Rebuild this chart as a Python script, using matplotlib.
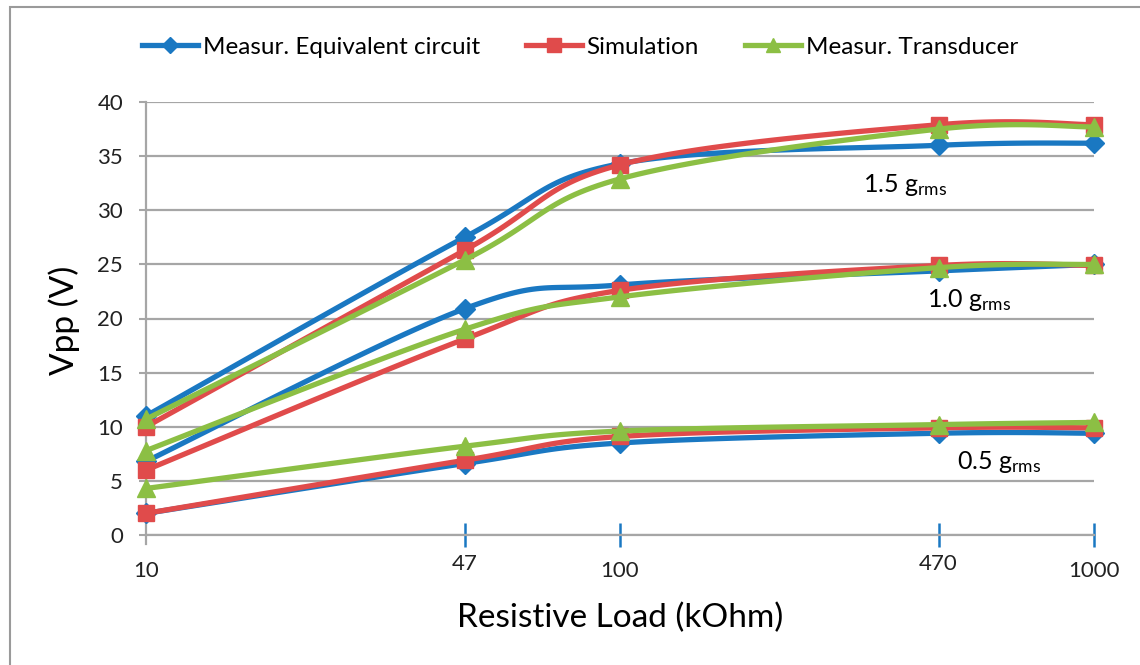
import matplotlib
matplotlib.use("Agg")
import matplotlib.pyplot as plt
import numpy as np
from matplotlib.patches import Rectangle

plt.rcParams['font.family'] = ['Lato', 'DejaVu Sans']
plt.rcParams['mathtext.fontset'] = 'custom'
plt.rcParams['mathtext.rm'] = 'Lato'
plt.rcParams['mathtext.default'] = 'regular'

# resistive load (kOhm)
carga = [10, 47, 100, 470, 1000]
etiquetas_x = ["10", "47", "100", "470", "1000"]

# Vpp (V) at 1.5 g_rms
eq_15 = [11.0, 27.5, 34.3, 36.0, 36.2]
sim_15 = [10.0, 26.3, 34.2, 37.9, 37.9]
tra_15 = [10.7, 25.4, 32.9, 37.5, 37.7]
# 1.0 g_rms
eq_10 = [6.8, 20.9, 23.1, 24.4, 25.0]
sim_10 = [6.0, 18.1, 22.6, 24.9, 24.9]
tra_10 = [7.8, 19.0, 22.0, 24.7, 25.0]
# 0.5 g_rms
eq_05 = [2.0, 6.6, 8.5, 9.4, 9.4]
sim_05 = [2.0, 6.9, 9.1, 9.9, 9.9]
tra_05 = [4.3, 8.2, 9.6, 10.2, 10.4]

series = ["Measur. Equivalent circuit", "Simulation", "Measur. Transducer"]
colores = ["#1a78c2", "#e04b4b", "#8cbf44"]
marcas = ["D", "s", "^"]
tam = [10, 12, 13]

# annotation labels: (x in kOhm, Vpp, text)
notas_x = [399, 546, 630]
notas_y = [32.3, 21.7, 6.7]
notas_txt = ["1.5 g$_{rms}$", "1.0 g$_{rms}$", "0.5 g$_{rms}$"]


def suave(x, y, n=30):
    # excel-style smoothed line (bezier through points), in log-x space
    u = np.log10(np.array(x, dtype=float))
    v = np.array(y, dtype=float)
    P = np.column_stack([u, v])
    out = []
    for i in range(len(P) - 1):
        p0 = P[i - 1] if i > 0 else P[i]
        p1 = P[i]
        p2 = P[i + 1]
        p3 = P[i + 2] if i + 2 < len(P) else P[i + 1]
        c1 = p1 + (p2 - p0) / 6.0
        c2 = p2 - (p3 - p1) / 6.0
        t = np.linspace(0, 1, n)[:, None]
        seg = (1 - t) ** 3 * p1 + 3 * (1 - t) ** 2 * t * c1 + 3 * (1 - t) * t ** 2 * c2 + t ** 3 * p2
        out.append(seg)
    out = np.vstack(out)
    return 10 ** out[:, 0], out[:, 1]


fig = plt.figure(figsize=(11.4, 6.65), dpi=100)
ax = fig.add_axes([146 / 1140, 1 - 535 / 665, (1094 - 146) / 1140, (535 - 102) / 665])

grupos = [(eq_15, sim_15, tra_15), (eq_10, sim_10, tra_10), (eq_05, sim_05, tra_05)]
for g in grupos:
    for k in range(3):
        xs, ys = suave(carga, g[k])
        ax.plot(xs, ys, color=colores[k], lw=3.8, zorder=3 + k, clip_on=False,
                solid_capstyle='round')
        ax.plot(carga, g[k], linestyle='none', marker=marcas[k], ms=tam[k],
                color=colores[k], zorder=3 + k, clip_on=False)

ax.set_xscale('log')
ax.set_xlim(10, 1000)
ax.set_ylim(0, 40)
ax.set_yticks(np.arange(0, 41, 5))
ax.grid(axis='y', color='#a6a6a6', lw=1.6)
ax.set_axisbelow(True)
ax.minorticks_off()
ax.set_xticks(carga[1:])
ax.set_xticklabels([])
ax.tick_params(axis='x', direction='inout', length=17, width=1.8, color='#1a78c2')
ax.tick_params(axis='y', direction='out', length=5, width=1.5, color='#a6a6a6',
               labelsize=16, pad=11.5, labelcolor='#222222')
for s in ['top', 'right']:
    ax.spines[s].set_visible(False)
ax.spines['left'].set_color('#a6a6a6')
ax.spines['left'].set_linewidth(1.6)
ax.spines['bottom'].set_color('#a6a6a6')
ax.spines['bottom'].set_linewidth(1.6)
ax.spines['left'].set_bounds(-0.8, 40)

for xv, lab in zip(carga, etiquetas_x):
    yy = -0.068 if lab in ("47", "470") else -0.082
    ax.text(xv, yy, lab, transform=ax.get_xaxis_transform(), ha='center', va='center',
            fontsize=16, color='#222222')

fig.text(64 / 1140, 1 - 320 / 665, "Vpp (V)", rotation=90, ha='center', va='center', fontsize=24)
fig.text(620 / 1140, 1 - 618 / 665, "Resistive Load (kOhm)", ha='center', va='center', fontsize=24)

for xv, yv, txt in zip(notas_x, notas_y, notas_txt):
    ax.text(xv, yv, txt, fontsize=18, ha='center', va='center')

handles = [plt.Line2D([], [], color=colores[k], lw=3.8, marker=marcas[k], ms=tam[k] * 0.8)
           for k in range(3)]
fig.legend(handles, series, loc='center', bbox_to_anchor=(580 / 1140, 1 - 47 / 665), ncol=3,
           frameon=False, fontsize=17.5, handlelength=2.3, columnspacing=1.9, handletextpad=0.2)

fig.patches.append(Rectangle((10 / 1140, -0.01), 1.1, 1 - 7 / 665 + 0.01, transform=fig.transFigure,
                             fill=False, edgecolor='#9a9a9a', lw=1.5))

fig.savefig("out.png", dpi=100)
